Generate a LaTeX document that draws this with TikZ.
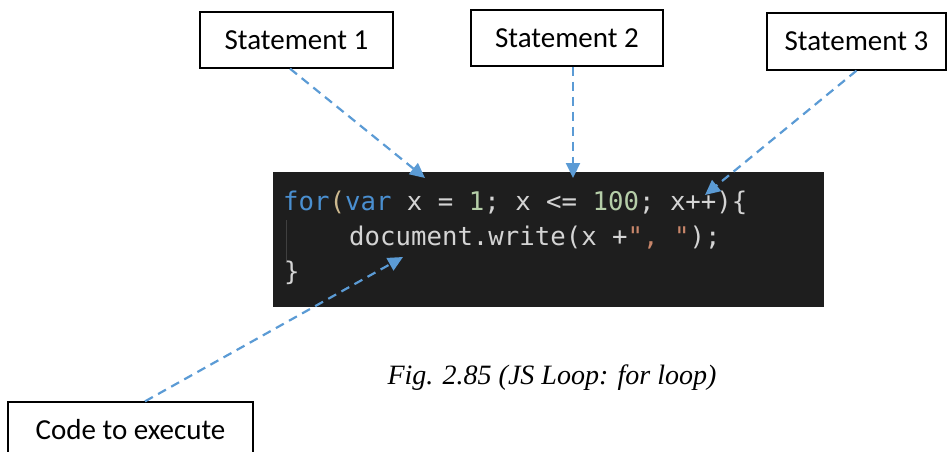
\documentclass[tikz,border=0pt]{standalone}
\usepackage{fontspec}
\setmainfont{Carlito}
\newfontfamily\codefont{DejaVu Sans Mono}
\newfontfamily\capfont{Liberation Serif}
\usetikzlibrary{arrows.meta}

\definecolor{callout}{HTML}{5B9BD5}
\definecolor{editorbg}{HTML}{1E1E1E}
\definecolor{codetext}{HTML}{D4D4D4}
\definecolor{codekw}{HTML}{4A8FD0}
\definecolor{codeparen}{HTML}{CDB98F}
\definecolor{codenum}{HTML}{B5CEA8}
\definecolor{codestr}{HTML}{C8866A}
\definecolor{guide}{HTML}{404040}

\tikzset{
  labelbox/.style={draw=black, line width=1.3pt, fill=white, inner sep=0pt,
    font=\fontsize{29}{34}\selectfont},
  pointer/.style={draw=callout, line width=2.2pt, dash pattern=on 9pt off 6pt,
    -{Triangle[length=15pt,width=14pt]}},
  codeline/.style={anchor=base west, inner sep=0pt, text=codetext,
    font=\codefont\fontsize{25.7}{30}\selectfont},
}

\begin{document}
\begin{tikzpicture}[x=1pt, y=-1pt]
  \useasboundingbox (0,0) rectangle (947,452);

  % editor screenshot with the loop
  \fill[editorbg] (273,172) rectangle (824,307);
  \draw[guide, line width=1pt] (286,220) -- (286,263);
  \node[codeline] (l1) at (283,210)
    {\textcolor{codekw}{for}\textcolor{codeparen}{(}\textcolor{codekw}{var} x = \textcolor{codenum}{1}; x <= \textcolor{codenum}{100}; x++)\{};
  \node[codeline] (l2) at (349,245)
    {document.write(x +\textcolor{codestr}{", "});};
  \node[codeline] (l3) at (284,280) {\}};

  % arrow targets inside the code
  \coordinate (t1) at (425,178);
  \coordinate (t2) at (573,178);
  \coordinate (t3) at (705,195);
  \coordinate (t4) at (403,257);

  % label boxes
  \node[labelbox, minimum width=193pt, minimum height=56pt] (s1) at (296.5,40) {Statement 1};
  \node[labelbox, minimum width=192pt, minimum height=56pt] (s2) at (567,38) {Statement 2};
  \node[labelbox, minimum width=179pt, minimum height=57pt] (s3) at (856.5,41.5) {Statement 3};
  \node[labelbox, minimum width=245pt, minimum height=56pt] (body) at (130.5,430) {Code to execute};

  % dashed pointers
  \draw[pointer] ([xshift=-6.5pt]s1.south) -- (t1);
  \draw[pointer] ([xshift=6pt]s2.south) -- (t2);
  \draw[pointer] (s3.south) -- (t3);
  \draw[pointer] ([xshift=14.5pt]body.north) -- (t4);

  % caption
  \node[anchor=base, inner sep=0pt, font=\capfont\itshape\fontsize{28}{32}\selectfont] (cap) at (552,384)
    {Fig. 2.85 (JS Loop: for loop)};
\end{tikzpicture}
\end{document}
